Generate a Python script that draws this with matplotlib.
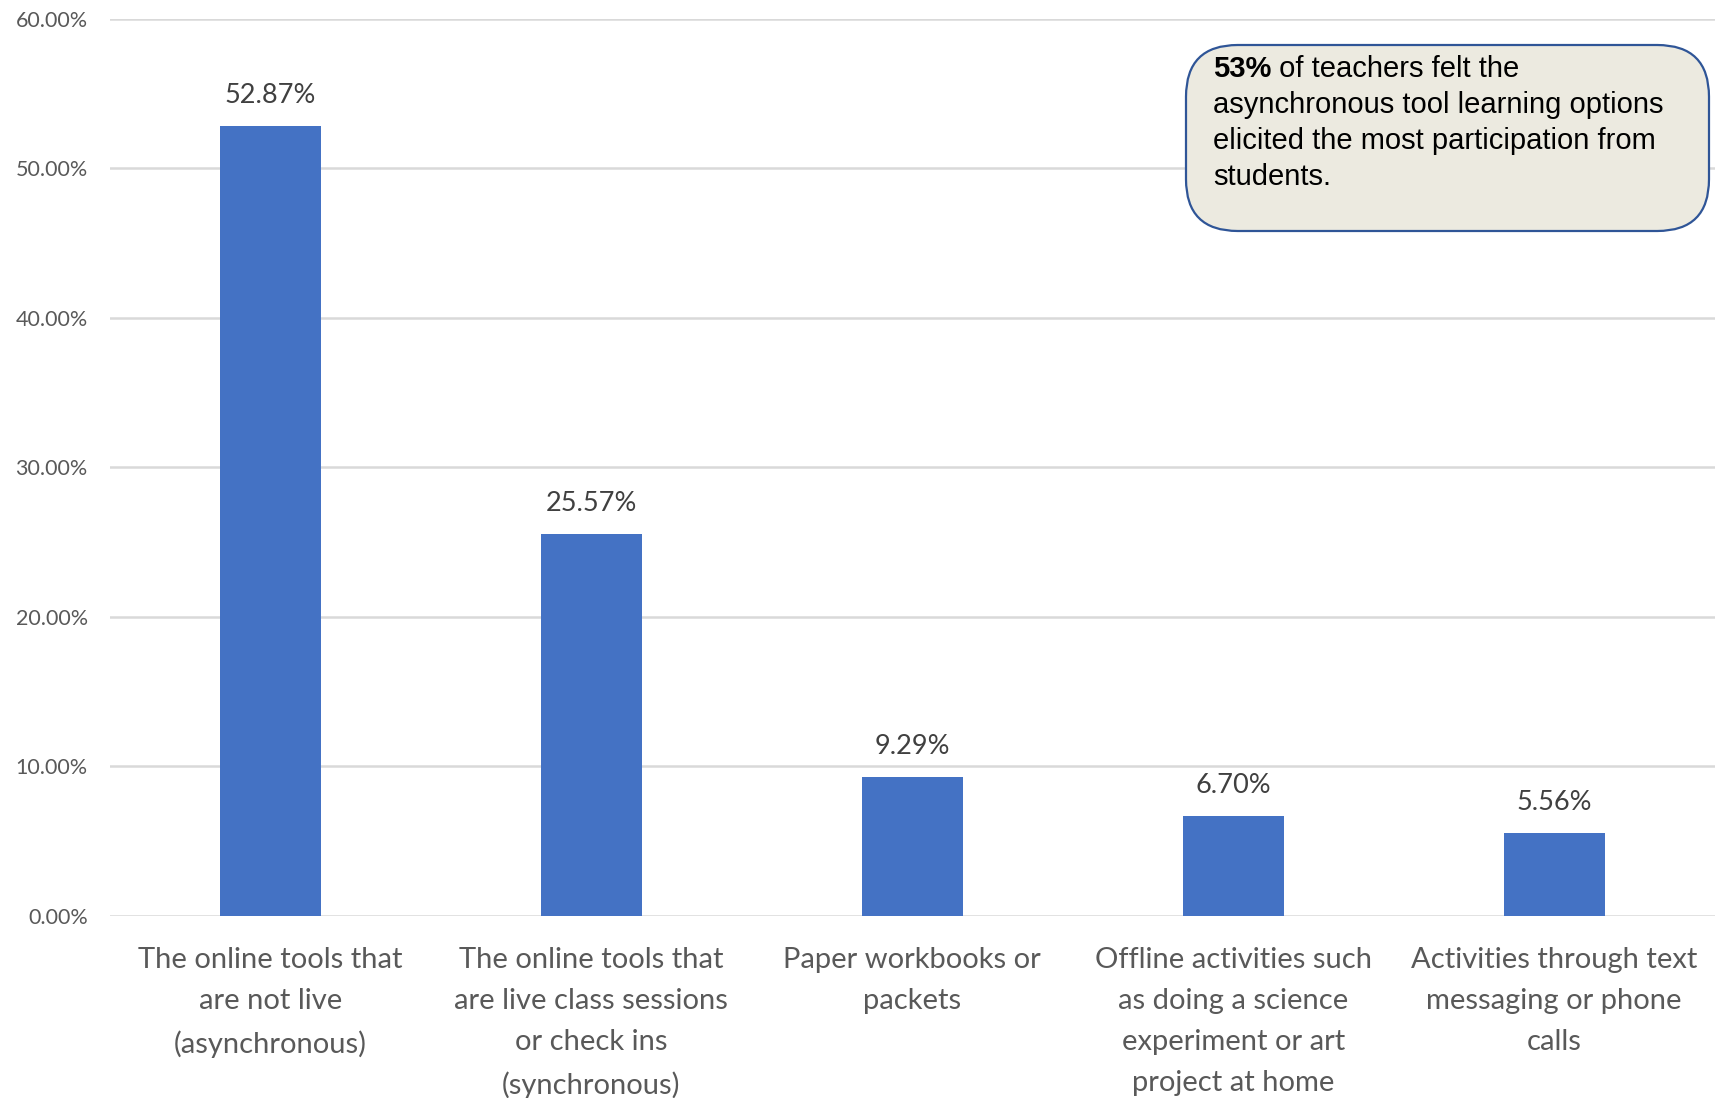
import matplotlib
matplotlib.use("Agg")
import matplotlib.pyplot as plt
from matplotlib.patches import FancyBboxPatch
from matplotlib.ticker import FuncFormatter

categories = [
    "The online tools that\nare not live\n(asynchronous)",
    "The online tools that\nare live class sessions\nor check ins\n(synchronous)",
    "Paper workbooks or\npackets",
    "Offline activities such\nas doing a science\nexperiment or art\nproject at home",
    "Activities through text\nmessaging or phone\ncalls",
]
values = [52.87, 25.57, 9.29, 6.70, 5.56]
yticks = [0, 10, 20, 30, 40, 50, 60]

fig = plt.figure(figsize=(17.25, 10.98), dpi=100)
ax = fig.add_axes([0.0638, 0.1658, 0.9302, 0.8169])

x = range(len(values))
bars = ax.bar(x, values, width=0.315, color="#4472C4", zorder=3)
for xi, v in zip(x, values):
    ax.annotate(f"{v:.2f}%", (xi, v), xytext=(0, 13), textcoords="offset points",
                ha="center", va="bottom", fontsize=19.5, color="#404040", family="Lato")

ax.set_xlim(-0.5, len(values) - 0.5)
ax.set_ylim(0, 60)
ax.set_yticks(yticks)
ax.yaxis.set_major_formatter(FuncFormatter(lambda v, p: f"{v:.2f}%"))
ax.grid(axis="y", color="#D9D9D9", linewidth=1.8, zorder=0)
for s in ax.spines.values():
    s.set_visible(False)
ax.tick_params(axis="y", length=0, pad=16, labelsize=15.5, labelcolor="#595959")
ax.tick_params(axis="x", length=0, pad=22)
ax.set_xticks(list(x))
ax.set_xticklabels(categories, fontsize=21, color="#595959", family="Lato", linespacing=1.72)
for t in ax.get_yticklabels():
    t.set_family("Lato")

# annotation box
bx0, by0 = 1186 / 1725, 1 - 231 / 1098
bw, bh = (1709 - 1186) / 1725, (231 - 45) / 1098
box = FancyBboxPatch((bx0, by0), bw, bh, boxstyle="round,pad=0,rounding_size=0.03",
                     transform=fig.transFigure, facecolor="#ECEAE0", edgecolor="#2F5597",
                     linewidth=1.6, mutation_aspect=1725 / 1098, zorder=5)
fig.patches.append(box)

tx = 1213 / 1725
lines_y = [69, 105, 141, 177]
fs = 21
t1 = fig.text(tx, 1 - lines_y[0] / 1098, "53%", fontsize=fs, fontweight="bold",
              family="Liberation Sans", va="center", ha="left", zorder=6)
fig.canvas.draw()
ext = t1.get_window_extent()
fig.text(ext.x1 / 1725, 1 - lines_y[0] / 1098, " of teachers felt the", fontsize=fs,
         family="Liberation Sans", va="center", ha="left", zorder=6)
rest = ["asynchronous tool learning options", "elicited the most participation from", "students."]
for yy, s in zip(lines_y[1:], rest):
    fig.text(tx, 1 - yy / 1098, s, fontsize=fs, family="Liberation Sans", va="center", ha="left", zorder=6)

fig.savefig("out.png", dpi=100)
